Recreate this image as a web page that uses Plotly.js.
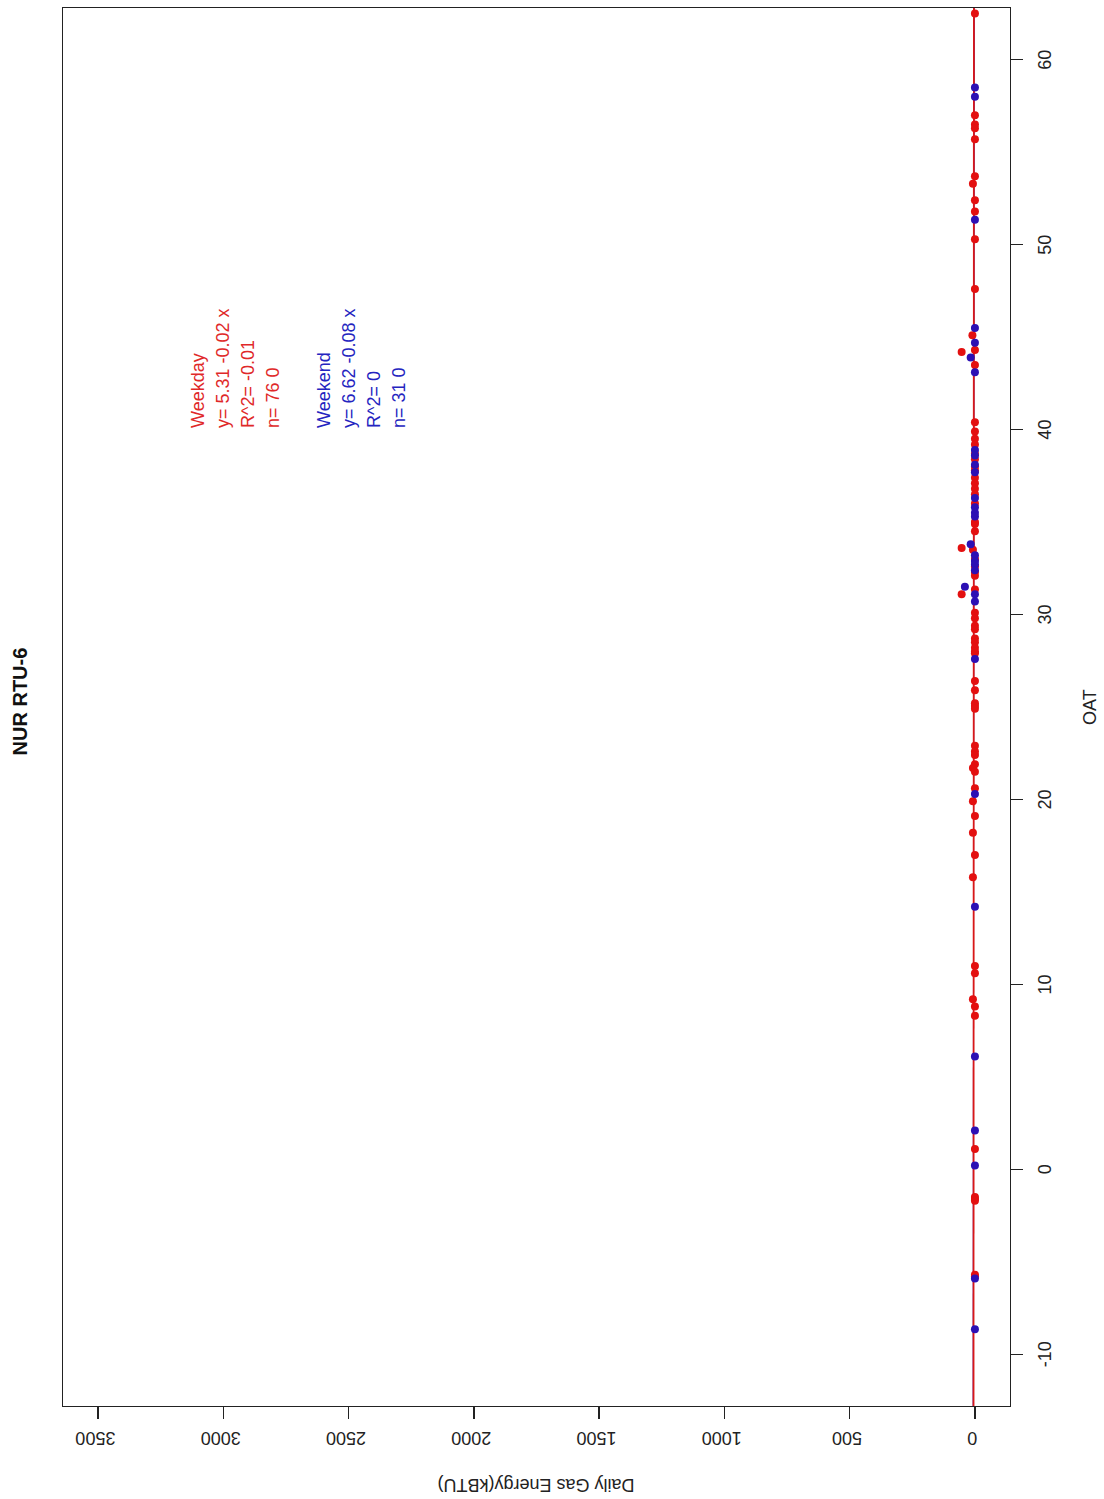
<!DOCTYPE html>
<html>
<head>
<meta charset="utf-8">
<script src="https://cdn.plot.ly/plotly-3.0.1.min.js"></script>
<style>
html,body{margin:0;padding:0;width:1104px;height:1499px;overflow:hidden;background:#fff;}
#wrap{position:absolute;left:0;top:0;width:1499px;height:1104px;transform-origin:0 0;transform:translate(0px,1499px) rotate(-90deg);}
#chart{width:1499px;height:1104px;}
</style>
</head>
<body>
<div id="wrap"><div id="chart"></div></div>
<script>
// Weekday data (red)
const weekdayOAT = [62.5,57.0,56.5,56.3,55.7,53.7,53.3,52.4,51.8,50.3,47.6,45.1,44.3,44.2,43.5,
  40.4,39.9,39.5,39.2,38.7,38.4,38.0,37.8,37.4,37.1,36.8,36.5,36.0,35.0,34.9,34.5,33.6,33.5,33.0,32.6,
  32.3,32.1,31.35,31.1,30.1,29.8,29.4,29.2,28.7,28.5,28.2,28.0,27.9,26.4,25.9,25.2,25.05,24.9,22.9,22.6,22.4,
  21.9,21.7,21.5,20.6,19.9,19.1,18.2,17.0,15.8,11.0,10.6,9.2,8.8,8.3,
  1.1,-1.5,-1.6,-1.7,-5.7,-5.8];
const weekdayEnergy = [0,0,0,0,0,0,8,0,0,0,0,10,0,53,0,
  0,0,0,0,0,0,0,0,0,0,0,0,0,0,0,0,53,8,0,0,
  0,0,0,53,0,0,0,0,0,0,0,0,0,0,0,0,0,0,0,0,0,
  0,8,0,0,8,0,8,0,8,0,0,8,0,0,
  0,0,0,0,0,0];
// Weekend data (blue)
const weekendOAT = [58.5,58.0,51.35,45.5,44.7,43.9,43.1,
  38.9,38.6,38.1,37.7,36.3,35.8,35.5,35.3,33.8,33.2,32.9,32.7,32.4,31.5,31.1,30.7,27.6,
  20.3,14.2,6.1,2.1,0.2,-5.9,-8.65];
const weekendEnergy = [0,0,0,0,0,17,0,
  0,0,0,0,0,0,0,0,17,0,0,0,0,40,0,0,0,
  0,0,0,0,0,0,0];
// Regression fits [intercept, slope]
const weekdayFit = [5.31, -0.02];
const weekendFit = [6.62, -0.08];
const weekdayLabels = ["Weekday", "y= 5.31 -0.02 x", "R^2= -0.01", "n= 76 0"];
const weekendLabels = ["Weekend", "y= 6.62 -0.08 x", "R^2= 0", "n= 31 0"];
const weekdayLabelY = [3100, 3000, 2900, 2800];
const weekendLabelY = [2600, 2500, 2400, 2300];
const labelX = 40;
const xTicks = [-10, 0, 10, 20, 30, 40, 50, 60];
const yTicks = [0, 500, 1000, 1500, 2000, 2500, 3000, 3500];
const xRange = [-12.8, 62.8];
const yRange = [-140, 3640];

const RED = '#e31010';
const BLUE = '#2c10b4';
const FONT = 'Liberation Sans, Arial, sans-serif';

function fitLine(fit, color, w) {
  return {
    x: xRange, y: xRange.map(v => fit[0] + fit[1] * v),
    mode: 'lines', line: {color: color, width: w}, hoverinfo: 'skip', showlegend: false
  };
}

const traces = [
  fitLine(weekendFit, BLUE, 0.8),
  fitLine(weekdayFit, '#d81818', 1.8),
  {x: weekdayOAT, y: weekdayEnergy, mode: 'markers', marker: {color: RED, size: 8}, showlegend: false},
  {x: weekendOAT, y: weekendEnergy, mode: 'markers', marker: {color: BLUE, size: 8}, showlegend: false}
];

const annotations = [];
weekdayLabels.forEach((t, i) => annotations.push({x: labelX, y: weekdayLabelY[i], xref: 'x', yref: 'y', text: t,
  showarrow: false, xanchor: 'left', yanchor: 'middle', font: {family: FONT, size: 18, color: '#e02828'}}));
weekendLabels.forEach((t, i) => annotations.push({x: labelX, y: weekendLabelY[i], xref: 'x', yref: 'y', text: t,
  showarrow: false, xanchor: 'left', yanchor: 'middle', font: {family: FONT, size: 18, color: '#2424c0'}}));
annotations.push({x: 0.5, y: 0, xref: 'paper', yref: 'paper', text: 'OAT', showarrow: false,
  xanchor: 'center', yanchor: 'middle', yshift: -80, font: {family: FONT, size: 18, color: '#222'}});
annotations.push({x: 0, y: 0.5, xref: 'paper', yref: 'paper', text: 'Daily Gas Energy(kBTU)', showarrow: false,
  textangle: -90, xanchor: 'center', yanchor: 'middle', xshift: -79, font: {family: FONT, size: 18, color: '#222'}});

const axisCommon = {
  showgrid: false, zeroline: false, showline: true, mirror: true, linecolor: '#222', linewidth: 1.3,
  ticks: 'outside', ticklen: 12, tickwidth: 1.3, tickcolor: '#222',
  tickfont: {family: FONT, size: 18, color: '#222'}
};

const layout = {
  width: 1499, height: 1104,
  margin: {l: 93, r: 8, t: 63, b: 94},
  paper_bgcolor: '#fff', plot_bgcolor: '#fff',
  title: {text: '<b>NUR RTU-6</b>', x: 0.532, xanchor: 'center', y: 0.982, yanchor: 'middle',
    font: {family: FONT, size: 20, color: '#111'}},
  xaxis: Object.assign({}, axisCommon, {range: xRange, tickvals: xTicks, ticktext: xTicks.map(String), ticklabelstandoff: 6}),
  yaxis: Object.assign({}, axisCommon, {range: yRange, tickvals: yTicks, ticktext: yTicks.map(String), tickangle: -90, ticklabelstandoff: 6}),
  annotations: annotations,
  showlegend: false
};

Plotly.newPlot('chart', traces, layout, {displayModeBar: false, staticPlot: true});
</script>
</body>
</html>
